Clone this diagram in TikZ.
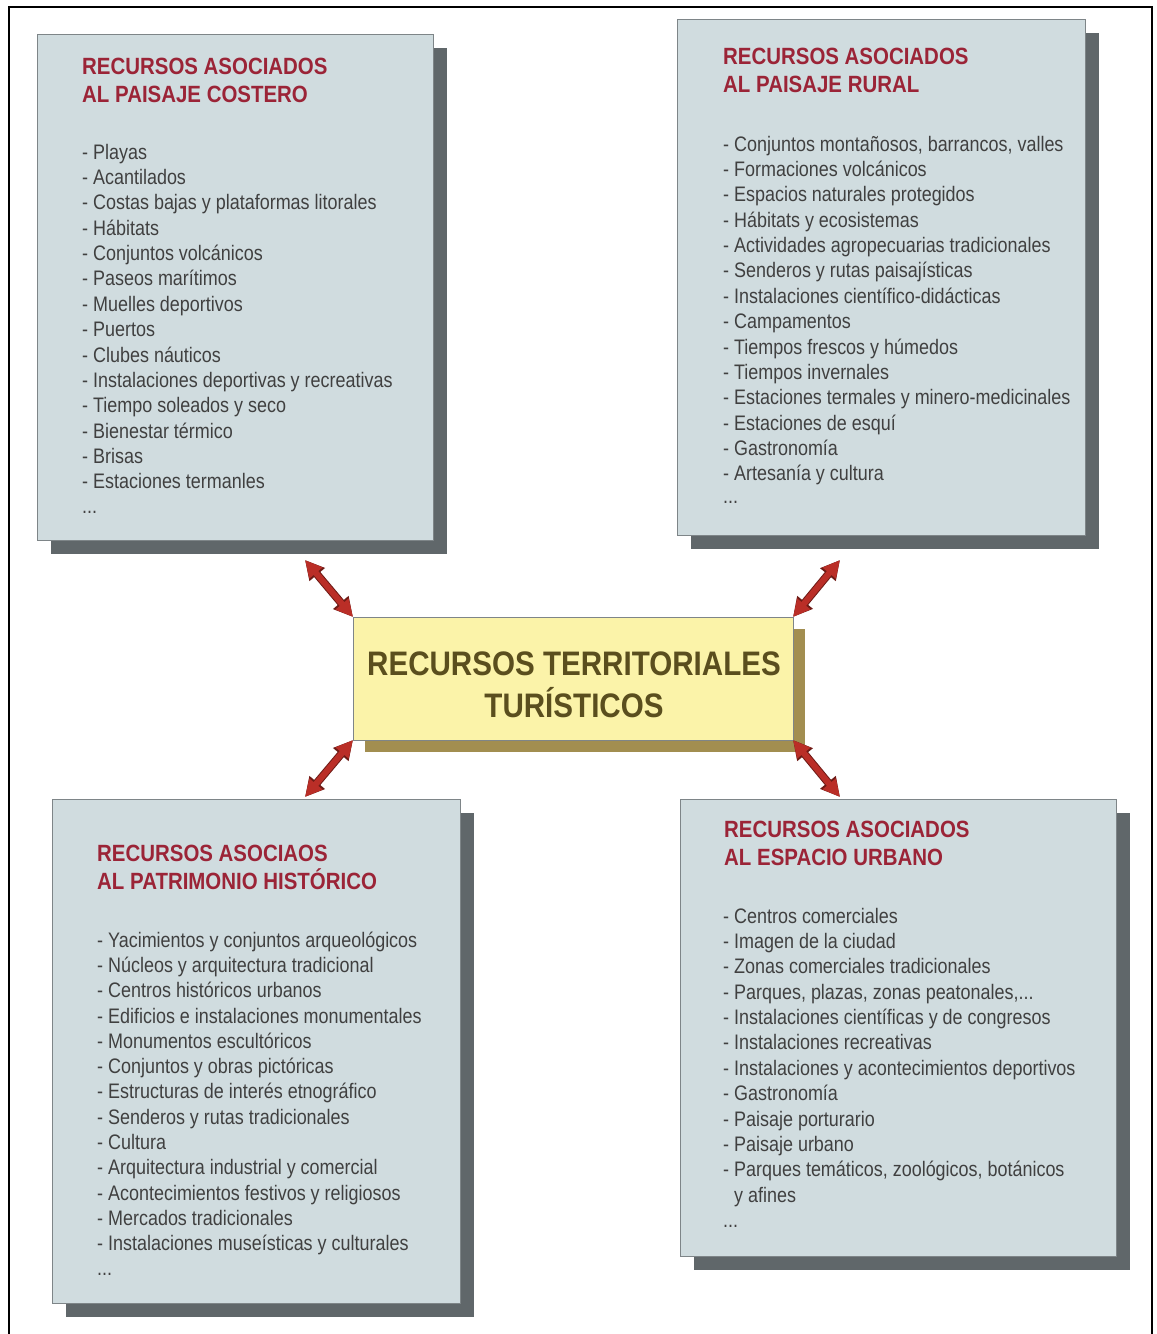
\documentclass[tikz,border=0pt]{standalone}
\usepackage{fontspec}
\setmainfont{Liberation Sans}[FakeStretch=0.855]
\newfontfamily\headfont{Liberation Sans}[FakeStretch=0.87]
\newfontfamily\corefont{Liberation Sans}[FakeStretch=0.87]
\usetikzlibrary{arrows.meta,shadows}
\newcommand\tridots{...}
\definecolor{panelfill}{HTML}{D0DCDF}
\definecolor{panelshadow}{HTML}{60676A}
\definecolor{panelline}{HTML}{7E8588}
\definecolor{corefill}{HTML}{FBF3A9}
\definecolor{coreshadow}{HTML}{A28E50}
\definecolor{coretext}{HTML}{5A4E1E}
\definecolor{titlered}{HTML}{9B2437}
\definecolor{itemgrey}{HTML}{404040}
\definecolor{arrowred}{HTML}{BA2E27}
\definecolor{arrowdark}{HTML}{6E1B16}
\tikzset{
  panel/.style={draw=panelline, line width=0.8pt, fill=panelfill, anchor=north west,
    inner sep=0pt, outer sep=0pt,
    general shadow={fill=panelshadow, shadow xshift=14pt, shadow yshift=-14pt}},
  core/.style={draw=panelline, line width=0.8pt, fill=corefill, anchor=north west,
    inner sep=0pt, outer sep=0pt,
    general shadow={fill=coreshadow, shadow xshift=12pt, shadow yshift=-12pt}},
  heading/.style={anchor=base west, inner sep=0pt, text=titlered,
    font=\fontsize{23.5}{27}\selectfont\headfont\bfseries},
  item/.style={anchor=base west, inner sep=0pt, text=itemgrey,
    font=\fontsize{21}{25}\selectfont},
  coretxt/.style={anchor=base, inner sep=0pt, text=coretext,
    font=\fontsize{34}{40}\selectfont\corefont\bfseries},
  duo/.style={line width=6pt, draw=arrowred,
    {Triangle[length=17pt,width=16pt]}-{Triangle[length=17pt,width=16pt]},
    preaction={draw=arrowdark, line width=8pt,
      {Triangle[length=19pt,width=19pt]}-{Triangle[length=19pt,width=19pt]}}},
  frame/.style={line width=2pt, draw=black}
}
\begin{document}
\begin{tikzpicture}[x=1pt,y=-1pt]
\useasboundingbox (0,0) rectangle (1157,1334);
\draw[frame] (9,1340) -- (9,7) -- (1152,7) -- (1152,1340);

% panels
\node[panel, minimum width=396pt, minimum height=506pt] (tl) at (37,34) {};
\node[panel, minimum width=408pt, minimum height=516pt] (tr) at (677,19) {};
\node[panel, minimum width=408pt, minimum height=504pt] (bl) at (52,799) {};
\node[panel, minimum width=436pt, minimum height=457pt] (br) at (680,799) {};
\node[core, minimum width=440pt, minimum height=123pt] (c) at (353,617) {};

% centre text
\node[coretxt] (c-t1) at (574,675) {RECURSOS TERRITORIALES};
\node[coretxt] (c-t2) at (574,717) {TURÍSTICOS};

% top-left panel
\node[heading] (tl-h1) at (82,74) {RECURSOS ASOCIADOS};
\node[heading] (tl-h2) at (82,102) {AL PAISAJE COSTERO};
\foreach \t [count=\i] in {{Playas},{Acantilados},{Costas bajas y plataformas litorales},
  {Hábitats},{Conjuntos volcánicos},{Paseos marítimos},{Muelles deportivos},{Puertos},
  {Clubes náuticos},{Instalaciones deportivas y recreativas},{Tiempo soleados y seco},
  {Bienestar térmico},{Brisas},{Estaciones termanles}}
  \node[item] (tl-\i) at (82,{159+25.38*(\i-1)}) {- \t};
\node[item] (tl-more) at (82,513) {\tridots};

% top-right panel
\node[heading] (tr-h1) at (723,64) {RECURSOS ASOCIADOS};
\node[heading] (tr-h2) at (723,92) {AL PAISAJE RURAL};
\foreach \t [count=\i] in {{Conjuntos montañosos, barrancos, valles},{Formaciones volcánicos},
  {Espacios naturales protegidos},{Hábitats y ecosistemas},
  {Actividades agropecuarias tradicionales},{Senderos y rutas paisajísticas},
  {Instalaciones científico-didácticas},{Campamentos},{Tiempos frescos y húmedos},
  {Tiempos invernales},{Estaciones termales y minero-medicinales},{Estaciones de esquí},
  {Gastronomía},{Artesanía y cultura}}
  \node[item] (tr-\i) at (723,{151+25.38*(\i-1)}) {- \t};
\node[item] (tr-more) at (723,503) {\tridots};

% bottom-left panel
\node[heading] (bl-h1) at (97,861) {RECURSOS ASOCIAOS};
\node[heading] (bl-h2) at (97,889) {AL PATRIMONIO HISTÓRICO};
\foreach \t [count=\i] in {{Yacimientos y conjuntos arqueológicos},{Núcleos y arquitectura tradicional},
  {Centros históricos urbanos},{Edificios e instalaciones monumentales},{Monumentos escultóricos},
  {Conjuntos y obras pictóricas},{Estructuras de interés etnográfico},
  {Senderos y rutas tradicionales},{Cultura},{Arquitectura industrial y comercial},
  {Acontecimientos festivos y religiosos},{Mercados tradicionales},
  {Instalaciones museísticas y culturales}}
  \node[item] (bl-\i) at (97,{947+25.33*(\i-1)}) {- \t};
\node[item] (bl-more) at (97,1275) {\tridots};

% bottom-right panel
\node[heading] (br-h1) at (724,837) {RECURSOS ASOCIADOS};
\node[heading] (br-h2) at (724,865) {AL ESPACIO URBANO};
\foreach \t [count=\i] in {{- Centros comerciales},{- Imagen de la ciudad},
  {- Zonas comerciales tradicionales},{- Parques, plazas, zonas peatonales,\tridots},
  {- Instalaciones científicas y de congresos},{- Instalaciones recreativas},
  {- Instalaciones y acontecimientos deportivos},{- Gastronomía},{- Paisaje porturario},
  {- Paisaje urbano},{- Parques temáticos, zoológicos, botánicos},{\hphantom{- }y afines}}
  \node[item] (br-\i) at (723,{923+25.38*(\i-1)}) {\t};
\node[item] (br-more) at (723,1227) {\tridots};

% connectors
\coordinate (a-tl) at (305,560);
\coordinate (a-tr) at (840,560);
\coordinate (a-bl) at (305,797);
\coordinate (a-br) at (840,797);
\draw[duo] (c.north west) -- (a-tl);
\draw[duo] (c.north east) -- (a-tr);
\draw[duo] (c.south west) -- (a-bl);
\draw[duo] (c.south east) -- (a-br);
\end{tikzpicture}
\end{document}
